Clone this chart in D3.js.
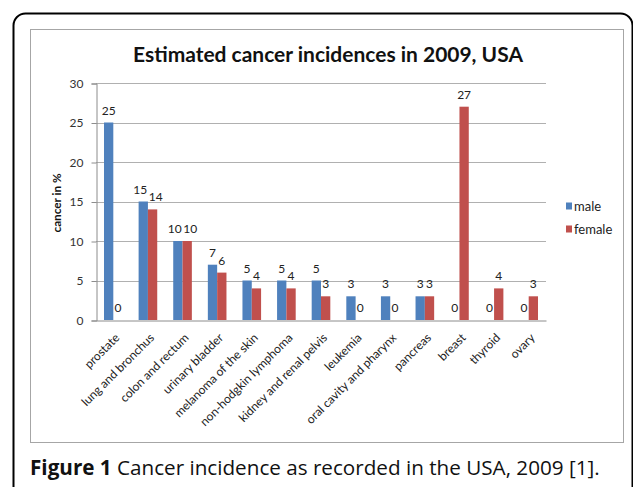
<!DOCTYPE html>
<html>
<head>
<meta charset="utf-8">
<script src="https://cdn.jsdelivr.net/npm/d3@7"></script>
<style>
  html, body { margin: 0; padding: 0; background: #fff; }
  svg { display: block; }
</style>
</head>
<body>
<svg id="chart" width="633" height="487"></svg>
<script>
const categories = ["prostate", "lung and bronchus", "colon and rectum", "urinary bladder",
  "melanoma of the skin", "non-hodgkin lymphoma", "kidney and renal pelvis", "leukemia",
  "oral cavity and pharynx", "pancreas", "breast", "thyroid", "ovary"];
const maleValues   = [25, 15, 10, 7, 5, 5, 5, 3, 3, 3, 0, 0, 0];
const femaleValues = [0, 14, 10, 6, 4, 4, 3, 0, 0, 3, 27, 4, 3];
const seriesNames = ["male", "female"];
const yTicks = [0, 5, 10, 15, 20, 25, 30];
const titleText = "Estimated cancer incidences in 2009, USA";
const yTitle = "cancer in %";
const captionBold = "Figure 1";
const captionRest = " Cancer incidence as recorded in the USA, 2009 [1].";

const colors = { male: "#4F81BD", female: "#C0504D" };
const chartFont = "Lato, 'Open Sans', sans-serif";

const svg = d3.select("#chart");

// outer rounded frame
svg.append("rect")
  .attr("x", 13.5).attr("y", 13.5).attr("width", 619).attr("height", 500)
  .attr("rx", 12).attr("ry", 12)
  .attr("fill", "none").attr("stroke", "#000").attr("stroke-width", 2);

// inner chart area frame
svg.append("rect")
  .attr("x", 30.5).attr("y", 29.5).attr("width", 593).attr("height", 413)
  .attr("fill", "#fff").attr("stroke", "#a6a6a6").attr("stroke-width", 1);

const plot = { left: 96, right: 546, top: 83, bottom: 320 };

const x = d3.scaleBand().domain(categories).range([plot.left, plot.right]).padding(0);
const y = d3.scaleLinear().domain([0, 30]).range([plot.bottom, plot.top]);
const x1 = d3.scaleBand().domain(seriesNames)
  .range([x.bandwidth() * 0.231, x.bandwidth() * 0.769]).padding(0);

// gridlines
svg.append("g").selectAll("line").data(yTicks.filter(d => d > 0)).join("line")
  .attr("x1", plot.left).attr("x2", plot.right)
  .attr("y1", d => Math.round(y(d)) + 0.5).attr("y2", d => Math.round(y(d)) + 0.5)
  .attr("stroke", "#b0b0b0").attr("stroke-width", 1);

// y axis
const yAxis = d3.axisLeft(y).tickValues(yTicks).tickSize(5).tickPadding(8);
const gy = svg.append("g").attr("transform", `translate(${plot.left + 0.5},0.5)`).call(yAxis);
gy.select(".domain").attr("stroke", "#8c8c8c");
gy.selectAll(".tick line").attr("stroke", "#8c8c8c");
gy.selectAll(".tick text").attr("font-family", chartFont).attr("font-size", 12)
  .attr("fill", "#333");

// x axis
const xAxis = d3.axisBottom(x).tickSize(0).tickFormat(d => d);
const gx = svg.append("g").attr("transform", `translate(0,${plot.bottom + 0.5})`).call(xAxis);
gx.select(".domain").attr("stroke", "#8c8c8c");
gx.selectAll(".tick text")
  .attr("font-family", chartFont).attr("font-size", 12).attr("fill", "#222")
  .attr("text-anchor", "end")
  .attr("transform", "translate(4,15) rotate(-45)")
  .attr("dy", "0.35em").attr("y", 0).attr("x", 0);

// bars
const rows = categories.map((c, i) => ({ cat: c, male: maleValues[i], female: femaleValues[i] }));
const groups = svg.append("g").selectAll("g").data(rows).join("g")
  .attr("transform", d => `translate(${x(d.cat)},0)`);

groups.selectAll("rect").data(d => seriesNames.map(s => ({ s, v: d[s] }))).join("rect")
  .attr("x", d => x1(d.s)).attr("width", x1.bandwidth())
  .attr("y", d => y(d.v)).attr("height", d => y(0) - y(d.v))
  .attr("fill", d => colors[d.s]);

groups.each(function () {
  const labels = d3.select(this).selectAll("text")
    .data(d => seriesNames.map(s => ({ s, v: d[s] }))).join("text")
    .attr("x", d => x1(d.s) + x1.bandwidth() / 2)
    .attr("y", d => y(d.v) - 8)
    .attr("text-anchor", "middle")
    .attr("font-family", chartFont).attr("font-size", 12).attr("fill", "#222")
    .text(d => d.v);
  // spread the pair apart if their boxes touch
  const nodes = labels.nodes();
  const a = nodes[0].getBBox(), b = nodes[1].getBBox();
  const vOverlap = a.y < b.y + b.height && b.y < a.y + a.height;
  const gap = b.x - (a.x + a.width);
  if (vOverlap && gap < 1.5) {
    const shift = (1.5 - gap) / 2;
    d3.select(nodes[0]).attr("x", +d3.select(nodes[0]).attr("x") - shift);
    d3.select(nodes[1]).attr("x", +d3.select(nodes[1]).attr("x") + shift);
  }
});

// title
const title = svg.append("text")
  .attr("x", 328).attr("y", 62).attr("text-anchor", "middle")
  .attr("font-family", chartFont).attr("font-weight", "bold").attr("font-size", 20)
  .attr("fill", "#111").text(titleText);
{
  const w = title.node().getComputedTextLength();
  title.attr("font-size", 20 * 390 / w);
}

// y axis title
const yt = svg.append("text")
  .attr("transform", `translate(61,203) rotate(-90)`)
  .attr("text-anchor", "middle")
  .attr("font-family", chartFont).attr("font-weight", "bold").attr("font-size", 11)
  .attr("fill", "#111").text(yTitle);
{
  const w = yt.node().getComputedTextLength();
  yt.attr("font-size", 11 * 59 / w);
}

// legend
const legend = svg.append("g").selectAll("g").data(seriesNames).join("g")
  .attr("transform", (d, i) => `translate(566,${206 + i * 23})`);
legend.append("rect").attr("x", 0).attr("y", -3.5).attr("width", 6).attr("height", 7)
  .attr("fill", d => colors[d]);
legend.append("text").attr("x", 8).attr("y", 0).attr("dy", "0.35em")
  .attr("font-family", chartFont).attr("font-size", 13).attr("fill", "#222")
  .text(d => d);

// caption
const cap = svg.append("text")
  .attr("x", 30).attr("y", 475)
  .attr("font-family", "'Open Sans', 'Noto Sans', sans-serif").attr("font-size", 17)
  .attr("fill", "#111");
cap.append("tspan").attr("font-weight", "bold").text(captionBold);
cap.append("tspan").text(captionRest);
{
  const w = cap.node().getComputedTextLength();
  cap.attr("font-size", 17 * 570 / w);
}
</script>
</body>
</html>
